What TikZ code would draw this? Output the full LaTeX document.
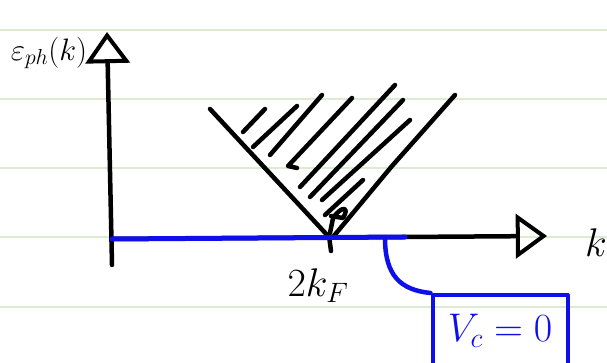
\documentclass[tikz,border=0pt]{standalone}
\usepackage{fix-cm}
\usetikzlibrary{arrows.meta}

\definecolor{ruled}{RGB}{221,235,210}
\definecolor{pen}{RGB}{15,15,235}

\begin{document}
\begin{tikzpicture}[x=1pt, y=-1pt, line cap=round, line join=round,
    ink/.style={line width=4.5pt},
    opentip/.style={-{Triangle[open,length=24pt 0 0,width=34pt 0 0,line width=4pt,scale=1.3]}},
    label/.style={font=\fontsize{40}{44}\selectfont}]
    \useasboundingbox (0,0) rectangle (607,363);

    % Paper lines
    \foreach \y in {30,99,168,237,307}
        \draw[ruled, line width=2pt] (0,\y) -- (607,\y);

    % Axes
    \coordinate (ybot) at (112,265);
    \coordinate (ytop) at (107,32);
    \coordinate (O) at (112,239);
    \coordinate (xend) at (547,236);
    \draw[ink, opentip] (ybot) -- (ytop);
    \draw[ink, opentip] (O) -- (xend);

    % Labels
    \node[font=\fontsize{31}{34}\selectfont] (E) at (49,53) {$\varepsilon_{ph}(k)$};
    \node[label] (k) at (596,243) {$k$};
    \node[label] (twokF) at (318,286) {$2k_F$};

    % Continuum
    \coordinate (apex) at (329,237);
    \draw[ink] (210,109) -- (apex);
    \draw[ink] (455,95) -- (392,166) -- (333,237);
    \draw[ink] (329,236) -- (331,251);
    \foreach \xa/\ya/\xb/\yb in {243/132/265/109, 253/147/297/106, 270/155/322/95,
                       300/187/395/85, 310/197/403/100, 322/200/410/120,
                       325/215/363/180}
        \draw[ink] (\xa,\ya) -- (\xb,\yb);
    \draw[ink] (297,168) -- (288,166) -- (352,98);
    \draw[ink] (330,233) -- (333,218) .. controls (342,205) and (350,207) .. (343,218) -- (331,216);

    % Coulomb off
    \draw[pen, line width=5pt] (O) -- (405,237);
    \node[draw=pen, text=pen, line width=4pt, minimum width=135pt,
          minimum height=72pt, label] (Vc) at (500,331) {$V_c=0$};
    \coordinate (tap) at (385,238);
    \draw[pen, ink] (tap) .. controls (385,275) and (400,290) .. (Vc.north west);
\end{tikzpicture}
\end{document}
